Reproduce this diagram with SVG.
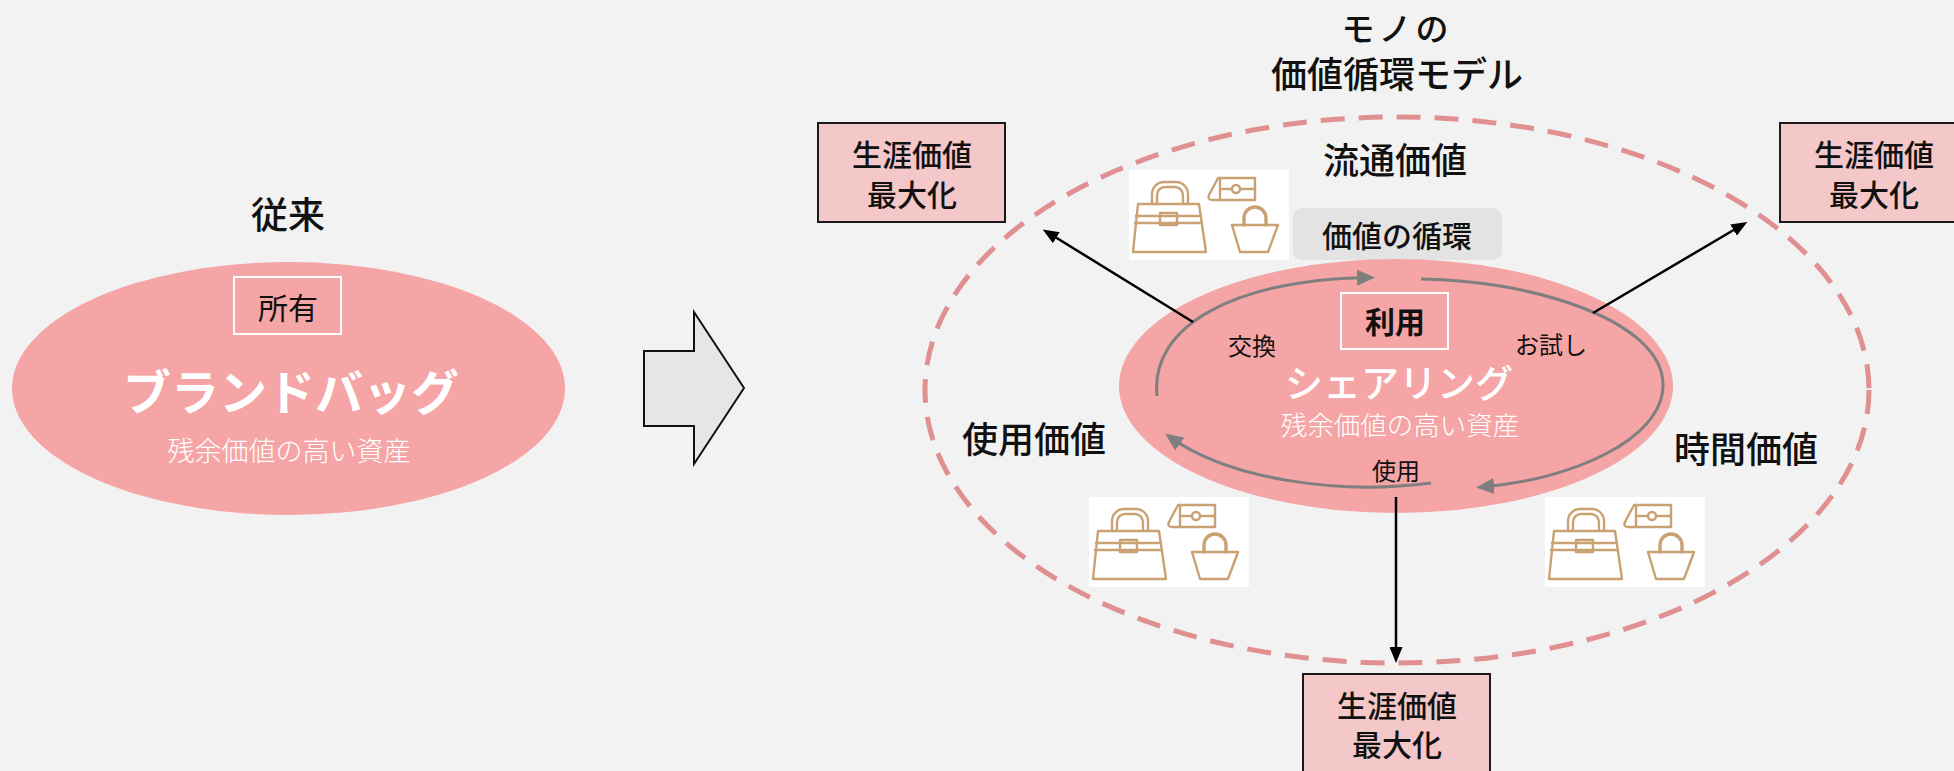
<svg xmlns="http://www.w3.org/2000/svg" xmlns:xlink="http://www.w3.org/1999/xlink" width="1954" height="771" viewBox="0 0 1954 771">
  <style>
    text { font-family: "Noto Sans CJK JP", "Noto Sans", sans-serif; text-anchor: middle; dominant-baseline: central; }
    .dark { fill: #111111; }
    .white { fill: #ffffff; }
    .blob { fill: #f5a5a5; }
    .lifebox { fill: #f4c7c8; stroke: #1a1a1a; stroke-width: 2; }
    .cycle { fill: none; stroke: #7f7f7f; stroke-width: 3; }
    .link { fill: none; stroke: #000000; stroke-width: 2.5; }
    .bagline { fill: none; stroke: #c9a173; stroke-width: 2.4; stroke-linejoin: round; stroke-linecap: round; }
  </style>
  <defs>
    <marker id="ah-black" markerWidth="16" markerHeight="13" refX="11" refY="6.5" orient="auto" markerUnits="userSpaceOnUse">
      <path d="M0,0 L16,6.5 L0,13 Z" fill="#000000"/>
    </marker>
    <marker id="ah-gray" markerWidth="18" markerHeight="16" refX="12" refY="8" orient="auto" markerUnits="userSpaceOnUse">
      <path d="M0,0 L18,8 L0,16 Z" fill="#7f7f7f"/>
    </marker>
    <!-- handbag, wallet and tote on a white card -->
    <g id="bagset">
      <rect x="0" y="0" width="160" height="90" fill="#ffffff"/>
      <path class="bagline" d="M9,34 L70,34 L77,82 L4,82 Z"/>
      <path class="bagline" d="M7,46 H72 M6,53 H73"/>
      <rect class="bagline" x="31" y="43" width="17" height="12" fill="#ffffff"/>
      <path class="bagline" d="M23,34 V24 A12,12 0 0 1 35,12 H47 A12,12 0 0 1 59,24 V34"/>
      <path class="bagline" d="M28,34 V25 A8,8 0 0 1 36,17 H46 A8,8 0 0 1 54,25 V34"/>
      <path class="bagline" d="M89,8 H126 V30 H83 Q78,30 80,25 Z"/>
      <path class="bagline" d="M91,8 V30 M91,19 H103 M111,19 H126"/>
      <circle class="bagline" cx="107" cy="19" r="4"/>
      <path class="bagline" d="M103,55 H149 L139,82 H111 Z"/>
      <path class="bagline" style="stroke-width:3.4" d="M115,55 V48 A11,11 0 0 1 137,48 V55"/>
    </g>
  </defs>

  <rect x="0" y="0" width="1954" height="771" fill="#f2f2f2"/>

  <!-- conventional ownership -->
  <g id="node-conventional">
    <text class="dark" x="288" y="213" font-size="37" font-weight="500">従来</text>
    <ellipse class="blob" cx="288.5" cy="388.5" rx="276.5" ry="126.5"/>
    <rect x="234" y="277" width="107" height="57" fill="none" stroke="#ffffff" stroke-width="2"/>
    <text class="dark" x="288" y="306" font-size="30">所有</text>
    <text class="white" x="291" y="389" font-size="48" font-weight="700">ブランドバッグ</text>
    <text class="white" x="289" y="449" font-size="27" font-weight="300">残余価値の高い資産</text>
  </g>

  <!-- transition arrow -->
  <g id="node-transition">
    <polygon points="644,351 694,351 694,312 744,388 694,464 694,426 644,426" fill="#e6e6e6" stroke="#111111" stroke-width="2"/>
  </g>

  <!-- circulation model -->
  <g id="node-title">
    <text class="dark" x="1397" y="27" font-size="33" font-weight="500" letter-spacing="4">モノの</text>
    <text class="dark" x="1397" y="72" font-size="36" font-weight="500">価値循環モデル</text>
  </g>

  <g id="node-outer-ring">
    <ellipse cx="1397" cy="390" rx="472" ry="273" fill="none" stroke="#e09090" stroke-width="5" stroke-dasharray="24 14"/>
    <text class="dark" x="1395" y="158" font-size="36" font-weight="500">流通価値</text>
    <text class="dark" x="1034" y="437" font-size="36" font-weight="500">使用価値</text>
    <text class="dark" x="1746" y="447" font-size="36" font-weight="500">時間価値</text>
  </g>

  <g id="node-cycle-label">
    <rect x="1293" y="208" width="209" height="52" rx="9" fill="#e3e3e3"/>
    <text class="dark" x="1397" y="234" font-size="30" font-weight="500">価値の循環</text>
  </g>

  <g id="node-sharing">
    <ellipse class="blob" cx="1396" cy="386" rx="277" ry="127"/>
    <path class="cycle" d="M1157,396 C1150,325 1235,280 1369,277.5" marker-end="url(#ah-gray)"/>
    <path class="cycle" d="M1421,279 C1530,280 1663,320 1663,385 C1663,440 1570,480 1482,487" marker-end="url(#ah-gray)"/>
    <path class="cycle" d="M1431,483 C1340,495 1230,480 1170,437" marker-end="url(#ah-gray)"/>
    <rect x="1341" y="293" width="107" height="56" fill="none" stroke="#ffffff" stroke-width="2"/>
    <text class="dark" x="1395" y="320" font-size="30" font-weight="700">利用</text>
    <text class="dark" x="1252" y="344" font-size="24">交換</text>
    <text class="dark" x="1551" y="343" font-size="24">お試し</text>
    <text class="white" x="1399" y="380" font-size="38" font-weight="500">シェアリング</text>
    <text class="white" x="1400" y="423" font-size="26.5" font-weight="300">残余価値の高い資産</text>
    <text class="dark" x="1396" y="469" font-size="24">使用</text>
  </g>

  <g id="node-bags-top">
    <use xlink:href="#bagset" href="#bagset" x="1129" y="170"/>
  </g>
  <g id="node-bags-left">
    <use xlink:href="#bagset" href="#bagset" x="1089" y="497"/>
  </g>
  <g id="node-bags-right">
    <use xlink:href="#bagset" href="#bagset" x="1545" y="497"/>
  </g>

  <!-- connectors -->
  <g id="connectors">
    <path class="link" d="M1193,322 L1047,232" marker-end="url(#ah-black)"/>
    <path class="link" d="M1593,313 L1743,224.5" marker-end="url(#ah-black)"/>
    <path class="link" d="M1396,497 L1396,658" marker-end="url(#ah-black)"/>
  </g>

  <!-- lifetime value boxes -->
  <g id="node-lifetime-left">
    <rect class="lifebox" x="818" y="123" width="187" height="99"/>
    <text class="dark" x="912" y="153" font-size="30" font-weight="500">生涯価値</text>
    <text class="dark" x="912" y="193" font-size="30" font-weight="500">最大化</text>
  </g>
  <g id="node-lifetime-right">
    <rect class="lifebox" x="1780" y="123" width="187" height="99"/>
    <text class="dark" x="1874" y="153" font-size="30" font-weight="500">生涯価値</text>
    <text class="dark" x="1874" y="193" font-size="30" font-weight="500">最大化</text>
  </g>
  <g id="node-lifetime-bottom">
    <rect class="lifebox" x="1303" y="674" width="187" height="99"/>
    <text class="dark" x="1397" y="704" font-size="30" font-weight="500">生涯価値</text>
    <text class="dark" x="1397" y="743" font-size="30" font-weight="500">最大化</text>
  </g>
</svg>
